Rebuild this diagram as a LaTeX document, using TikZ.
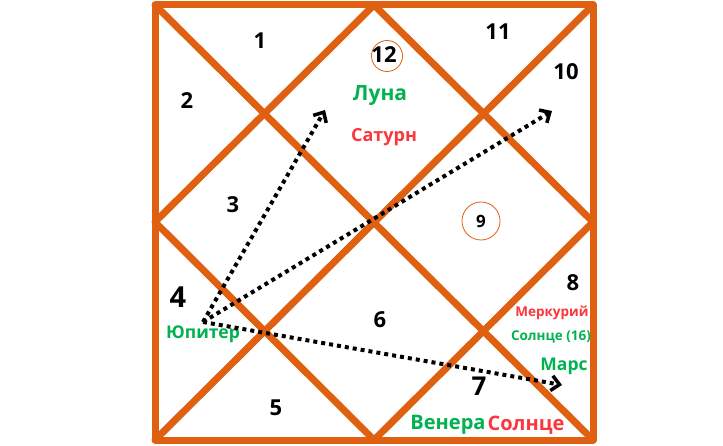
\documentclass[tikz,border=0pt]{standalone}
\usepackage{fontspec}
\setmainfont{Open Sans}
\usetikzlibrary{arrows.meta}
\definecolor{chartor}{RGB}{224,96,18}
\definecolor{pgreen}{RGB}{0,178,80}
\definecolor{pred}{RGB}{250,55,60}
\begin{document}
\begin{tikzpicture}[x=1pt,y=-1pt,
  chartline/.style={draw=chartor,line width=7pt,line cap=round,line join=round},
  num/.style={font=\bfseries\fontsize{22}{23}\selectfont,text=black,inner sep=0pt},
  grn/.style={font=\bfseries,text=pgreen,inner sep=0pt},
  rd/.style={font=\bfseries,text=pred,inner sep=0pt},
  ring/.style={circle,draw=chartor,line width=0.8pt},
  aspect/.style={draw=black,line width=4pt,dash pattern=on 4pt off 4pt,
     -{Straight Barb[length=8pt,width=15pt,line width=3.5pt]}}]
\useasboundingbox (0,0) rectangle (723,446);
\fill[white] (0,0) rectangle (723,446);
% chart
\coordinate (TL) at (155,5);
\coordinate (TR) at (593,5);
\coordinate (BR) at (593,440);
\coordinate (BL) at (155,440);
\coordinate (TM) at (374,5);
\coordinate (RM) at (593,222);
\coordinate (BM) at (374,440);
\coordinate (LM) at (155,222);
\draw[chartline] (TL) -- (TR) -- (BR) -- (BL) -- cycle;
\draw[chartline] (TL) -- (BR);
\draw[chartline] (TR) -- (BL);
\draw[chartline] (TM) -- (RM) -- (BM) -- (LM) -- cycle;
% circles
\node[ring,minimum size=31pt] (c12) at (387,56) {};
\node[ring,minimum size=38pt] (c9) at (481,221) {};
% numbers
\node[num] (n1) at (260,41) {1};
\node[num] (n2) at (187,101) {2};
\node[num] (n3) at (233,205) {3};
\node[num,font=\bfseries\fontsize{29}{30}\selectfont] (n4) at (178,297) {4};
\node[num] (n5) at (276,408) {5};
\node[num] (n6) at (380,320) {6};
\node[num,font=\bfseries\fontsize{26}{27}\selectfont] (n7) at (479,386) {7};
\node[num] (n8) at (573,283) {8};
\node[num,font=\bfseries\fontsize{17}{18}\selectfont] (n9) at (481,221) {9};
\node[num] (n10) at (566,72) {10};
\node[num] (n11) at (498,32) {11};
\node[num] (n12) at (384,55) {12};
% planets
\node[grn,font=\bfseries\fontsize{21}{22}\selectfont] (moon) at (380,96) {Луна};
\node[rd,font=\bfseries\fontsize{18}{19}\selectfont] (sat) at (384,137) {Сатурн};
\node[grn,font=\bfseries\fontsize{17.5}{18}\selectfont] (jup) at (203,334) {Юпитер};
\node[rd,font=\bfseries\fontsize{13.5}{14}\selectfont] (mer) at (552,313) {Меркурий};
\node[grn,font=\bfseries\fontsize{13.5}{14}\selectfont] (sun16) at (551,337) {Солнце (16)};
\node[grn,font=\bfseries\fontsize{17.5}{18}\selectfont] (mars) at (564,366) {Марс};
\node[grn,font=\bfseries\fontsize{20}{21}\selectfont] (ven) at (448,425) {Венера};
\node[rd,font=\bfseries\fontsize{20}{21}\selectfont] (sun) at (526,425) {Солнце};
% aspects
\coordinate (J) at (203,322);
\coordinate (A1) at (325,110);
\coordinate (A2) at (552,111);
\coordinate (A3) at (562,385);
\draw[aspect] (J) -- (A1);
\draw[aspect] (J) -- (A2);
\draw[aspect] (J) -- (A3);
\end{tikzpicture}
\end{document}
